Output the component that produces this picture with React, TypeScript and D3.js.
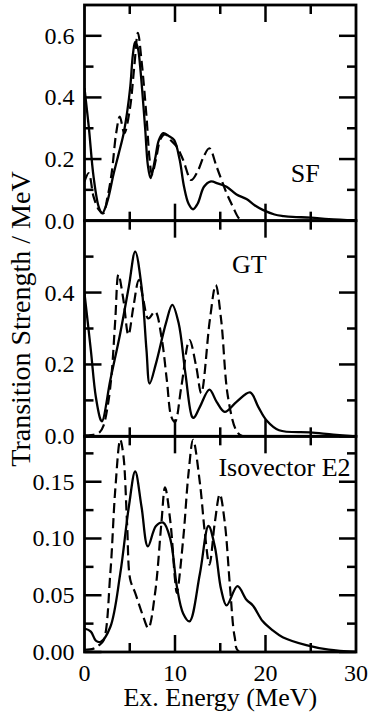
import React from "react";
import * as d3 from "d3";

// ---- Data (Ex. energy in MeV, strength per MeV) ----
const sfSolid: [number, number][] = [
  [0, 0.43], [0.47, 0.305], [1.0, 0.143], [1.57, 0.045], [1.95, 0.024], [2.5, 0.06],
  [3.2, 0.15], [3.8, 0.22], [4.3, 0.28], [4.7, 0.35], [5.06, 0.435], [5.35, 0.54],
  [5.6, 0.58], [5.9, 0.56], [6.15, 0.5], [6.7, 0.3], [7.0, 0.18], [7.3, 0.138],
  [7.8, 0.2], [8.2, 0.26], [8.7, 0.284], [9.3, 0.275], [9.9, 0.262], [10.5, 0.2],
  [11.0, 0.11], [11.5, 0.055], [12.0, 0.037], [12.5, 0.055], [13.2, 0.11], [13.9, 0.127],
  [14.8, 0.12], [15.7, 0.11], [16.8, 0.085], [17.9, 0.07], [18.8, 0.05], [19.7, 0.035],
  [21, 0.02], [22, 0.015], [23, 0.012], [25, 0.01], [27, 0.005], [30, 0.001],
];
const sfDashed: [number, number][] = [
  [0, 0.127], [0.47, 0.154], [1.0, 0.078], [1.6, 0.035], [2.1, 0.024], [2.5, 0.07],
  [3.0, 0.154], [3.5, 0.284], [3.9, 0.338], [4.4, 0.284], [5.0, 0.36], [5.5, 0.5],
  [5.9, 0.61], [6.3, 0.52], [6.85, 0.338], [7.2, 0.197], [7.45, 0.15], [7.9, 0.2],
  [8.4, 0.265], [8.9, 0.28], [9.5, 0.262], [10.2, 0.24], [10.9, 0.197], [11.8, 0.132],
  [12.5, 0.16], [13.2, 0.21], [13.8, 0.235], [14.6, 0.175], [15.7, 0.089], [16.4, 0.045],
  [17.0, 0.01], [17.4, 0.0], [30, 0.0],
];
const gtSolid: [number, number][] = [
  [0, 0.398], [0.7, 0.24], [1.25, 0.11], [1.8, 0.045], [1.95, 0.042], [2.85, 0.156],
  [3.95, 0.287], [4.9, 0.417], [5.6, 0.514], [6.3, 0.417], [6.85, 0.24], [7.2, 0.147],
  [7.9, 0.203], [9.0, 0.315], [9.7, 0.366], [10.4, 0.315], [11.15, 0.175], [11.9, 0.054],
  [12.1, 0.052], [12.75, 0.082], [13.8, 0.13], [14.6, 0.096], [15.5, 0.068], [16.8, 0.096],
  [18.3, 0.122], [19.2, 0.082], [20.1, 0.045], [21.5, 0.017], [24.9, 0.011], [27.5, 0.005],
  [30, 0.0],
];
const gtDashed: [number, number][] = [
  [0, 0.003], [1.0, 0.004], [1.7, 0.012], [2.1, 0.03], [2.6, 0.09], [3.0, 0.175],
  [3.4, 0.324], [3.75, 0.45], [4.3, 0.38], [4.85, 0.282], [5.4, 0.36], [6.0, 0.435],
  [6.5, 0.38], [7.05, 0.328], [7.8, 0.347], [8.5, 0.277], [9.1, 0.156], [9.6, 0.054],
  [10.0, 0.04], [10.7, 0.138], [11.6, 0.268], [12.35, 0.193], [12.9, 0.12], [13.85, 0.324],
  [14.5, 0.421], [15.1, 0.324], [15.85, 0.11], [16.8, 0.015], [17.5, 0.0], [30, 0.0],
];
const e2Solid: [number, number][] = [
  [0, 0.0207], [0.7, 0.018], [1.25, 0.01], [1.8, 0.009], [2.85, 0.022], [3.95, 0.069],
  [4.9, 0.128], [5.6, 0.159], [6.3, 0.128], [7.0, 0.093], [7.9, 0.111], [8.7, 0.114],
  [9.5, 0.099], [10.2, 0.058], [10.9, 0.034], [11.6, 0.027], [12.75, 0.069], [13.7, 0.111],
  [14.4, 0.093], [15.1, 0.055], [15.7, 0.041], [16.9, 0.058], [17.9, 0.046], [18.6, 0.041],
  [19.7, 0.027], [20.8, 0.019], [21.9, 0.013], [24.5, 0.006], [27, 0.002], [30, 0.0],
];
const e2Dashed: [number, number][] = [
  [0, 0.002], [1.0, 0.003], [1.6, 0.006], [2.1, 0.01], [2.85, 0.069], [3.4, 0.143],
  [3.95, 0.187], [4.3, 0.173], [4.7, 0.114], [5.05, 0.064], [5.6, 0.052], [6.5, 0.031],
  [7.05, 0.021], [7.8, 0.052], [8.5, 0.114], [8.9, 0.145], [9.5, 0.114], [10.0, 0.064],
  [10.2, 0.052], [10.9, 0.099], [11.5, 0.158], [12.0, 0.187], [12.75, 0.149], [13.3, 0.105],
  [13.8, 0.077], [14.4, 0.114], [14.95, 0.139], [15.5, 0.114], [16.1, 0.055], [16.6, 0.013],
  [17.1, 0.0], [30, 0.0],
];

const xTicks = [0, 5, 10, 15, 20, 25, 30];
const xMajorLabels = [0, 10, 20, 30];

interface PanelDef {
  name: string;
  solid: [number, number][];
  dashed: [number, number][];
  yMax: number;
  majors: number[];
  minors: number[];
  fmt: string;
  labelX: number;
  labelY: number;
}

const panels: PanelDef[] = [
  { name: "SF", solid: sfSolid, dashed: sfDashed, yMax: 0.7, majors: [0, 0.2, 0.4, 0.6], minors: [0.1, 0.3, 0.5], fmt: ".1f", labelX: 22.8, labelY: 0.127 },
  { name: "GT", solid: gtSolid, dashed: gtDashed, yMax: 0.6, majors: [0, 0.2, 0.4], minors: [0.1, 0.3, 0.5], fmt: ".1f", labelX: 16.3, labelY: 0.454 },
  { name: "Isovector E2", solid: e2Solid, dashed: e2Dashed, yMax: 0.19, majors: [0, 0.05, 0.1, 0.15], minors: [0.025, 0.075, 0.125, 0.175], fmt: ".2f", labelX: 14.8, labelY: 0.155 },
];

const W = 369;
const H = 717;
const left = 84.5;
const right = 356;
const top = 5;
const bottom = 652;
const panelH = (bottom - top) / 3;
const FONT = '"Liberation Serif"';

export default function App() {
  const x = d3.scaleLinear().domain([0, 30]).range([left, right]);
  const majLen = 17;
  const minLen = 9;

  return (
    <svg width={W} height={H} fontFamily="Liberation Serif" style={{ display: "block", position: "absolute", left: 0, top: 0, fontFamily: FONT }}>
      <style>{`text { font-family: "Liberation Serif" !important; }`}</style>
      <rect x={0} y={0} width={W} height={H} fill="white" />
      <defs>
        {panels.map((p, i) => (
          <clipPath id={`clip${i}`} key={i}>
            <rect x={left} y={top + i * panelH} width={right - left} height={panelH} />
          </clipPath>
        ))}
      </defs>
      {panels.map((p, i) => {
        const y0 = top + (i + 1) * panelH;
        const y1 = top + i * panelH;
        const y = d3.scaleLinear().domain([0, p.yMax]).range([y0, y1]);
        const line = d3
          .line<[number, number]>()
          .x((d) => x(d[0]))
          .y((d) => y(d[1]))
          .curve(d3.curveCatmullRom.alpha(0.5));
        const f = d3.format(p.fmt);
        return (
          <g key={i}>
            <g clipPath={`url(#clip${i})`}>
              <path d={line(p.dashed) || ""} fill="none" stroke="#000" strokeWidth={2.2} strokeDasharray="10,5" />
              <path d={line(p.solid) || ""} fill="none" stroke="#000" strokeWidth={2.3} />
            </g>
            {p.majors.map((v) => (
              <g key={"M" + v}>
                <line x1={left} x2={left + majLen} y1={y(v)} y2={y(v)} stroke="#000" strokeWidth={2.5} />
                <line x1={right} x2={right - majLen} y1={y(v)} y2={y(v)} stroke="#000" strokeWidth={2.5} />
                <text x={left - 10} y={y(v) + 8} textAnchor="end" fontSize={24}>
                  {f(v)}
                </text>
              </g>
            ))}
            {p.minors.map((v) => (
              <g key={"m" + v}>
                <line x1={left} x2={left + minLen} y1={y(v)} y2={y(v)} stroke="#000" strokeWidth={2.5} />
                <line x1={right} x2={right - minLen} y1={y(v)} y2={y(v)} stroke="#000" strokeWidth={2.5} />
              </g>
            ))}
            {xTicks.slice(1, -1).map((t) => {
              const len = t % 10 === 0 ? majLen : minLen;
              return (
                <g key={"x" + t}>
                  <line x1={x(t)} x2={x(t)} y1={y0} y2={y0 - len} stroke="#000" strokeWidth={2.5} />
                  <line x1={x(t)} x2={x(t)} y1={y1} y2={y1 + len} stroke="#000" strokeWidth={2.5} />
                </g>
              );
            })}
            <rect x={left} y={y1} width={right - left} height={panelH} fill="none" stroke="#000" strokeWidth={2.8} />
            <text x={x(p.labelX)} y={y(p.labelY)} fontSize={26}>
              {p.name}
            </text>
          </g>
        );
      })}
      {xMajorLabels.map((t) => (
        <text key={t} x={x(t)} y={681} textAnchor="middle" fontSize={24}>
          {t}
        </text>
      ))}
      <text x={(left + right) / 2} y={706} textAnchor="middle" fontSize={26}>
        Ex. Energy (MeV)
      </text>
      <text transform={`translate(30, 319) rotate(-90)`} textAnchor="middle" fontSize={28}>
        Transition Strength / MeV
      </text>
    </svg>
  );
}
